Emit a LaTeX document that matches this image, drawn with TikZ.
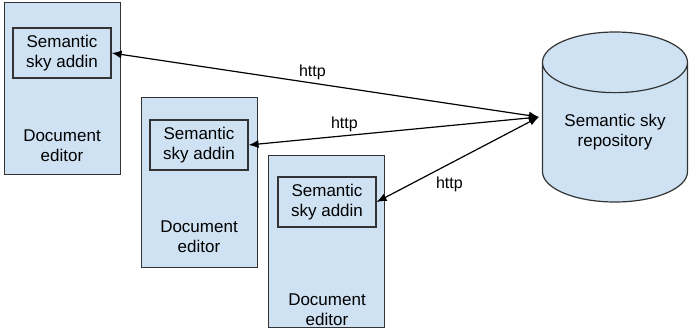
\documentclass[tikz,border=0pt]{standalone}
\usepackage{fontspec}
\setmainfont{Liberation Sans}
\usetikzlibrary{shapes.geometric,arrows.meta,positioning}

\definecolor{boxblue}{HTML}{CFE2F3}
\definecolor{boxline}{HTML}{333333}

\begin{document}
\begin{tikzpicture}[x=1pt,y=-1pt,
        every node/.style={font=\fontsize{17}{20}\selectfont},
        editor/.style={draw=boxline,fill=boxblue,line width=1.2pt,anchor=north west,
            minimum width=116pt,inner sep=0pt},
        addin/.style={draw=boxline,line width=1.2pt,minimum width=98pt,minimum height=50pt,
            align=center,inner sep=0pt},
        caption/.style={align=center,inner sep=0pt},
        repo/.style={cylinder,shape border rotate=90,aspect=0.6,draw=boxline,fill=boxblue,
            line width=1.2pt,minimum width=145pt,minimum height=170pt,align=center,inner sep=0pt,
            anchor=shape center},
        link/.style={{Latex[length=10pt,width=8pt]}-{Latex[length=10pt,width=8pt]},line width=1.2pt},
        http/.style={font=\fontsize{16}{19}\selectfont,inner sep=2pt}]
    \useasboundingbox (0,0) rectangle (689,329);

    % document editors
    \node[editor,minimum height=172pt] (editorA) at (4,2) {};
    \node[addin] (addinA) at (62,53) {Semantic\\sky addin};
    \node[caption] (docA) at (62,146) {Document\\editor};

    \node[editor,minimum height=170pt] (editorB) at (141,97) {};
    \node[addin] (addinB) at (199,145) {Semantic\\sky addin};
    \node[caption] (docB) at (199,237) {Document\\editor};

    \node[editor,minimum height=172pt] (editorC) at (268,155) {};
    \node[addin] (addinC) at (327,202) {Semantic\\sky addin};
    \node[caption] (docC) at (327,310) {Document\\editor};

    % repository
    \node[repo] (repo) at (615,117) {Semantic sky\\repository};
    \coordinate (repoIn) at ([xshift=-3pt]repo.west |- repo.shape center);

    % connections
    \draw[link] (addinA.east) -- node[http,pos=.47,above=1pt] {http} (repoIn);
    \draw[link] (addinB.east) -- node[http,pos=.33,above=1pt] {http} (repoIn);
    \draw[link] (addinC.east) -- node[http,pos=.35,below right=2pt and 0pt] {http} (repoIn);
\end{tikzpicture}
\end{document}
